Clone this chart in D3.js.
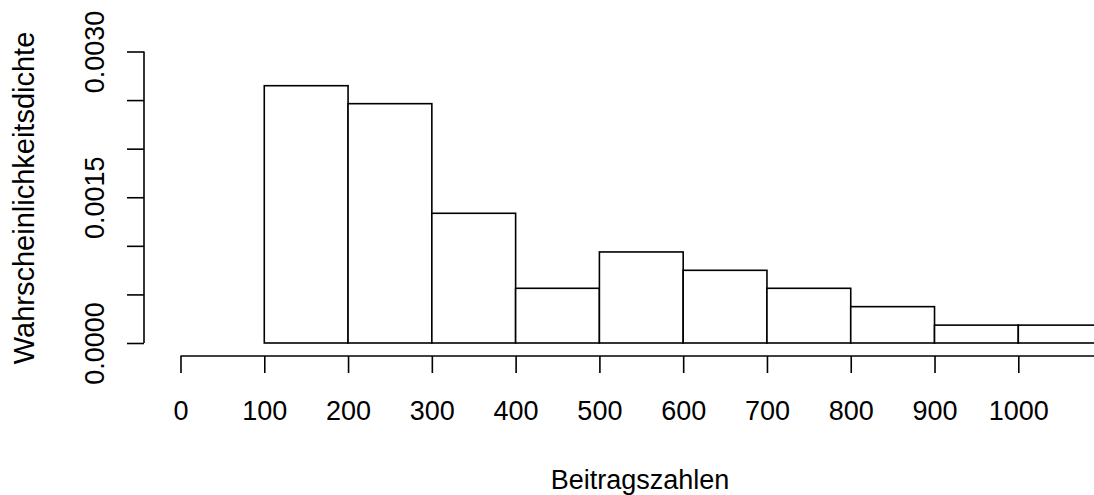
<!DOCTYPE html>
<html>
<head>
<meta charset="utf-8">
<script src="https://cdn.jsdelivr.net/npm/d3@7"></script>
<style>
  html, body { margin: 0; padding: 0; background: #fff; }
  svg { display: block; }
  text { font-family: "Liberation Sans", Arial, sans-serif; fill: #000; }
</style>
</head>
<body>
<svg id="chart" width="1094" height="495"></svg>
<script>
// Histogram bins (Beitragszahlen) and their densities
const binStarts = [0, 100, 200, 300, 400, 500, 600, 700, 800, 900, 1000];
const binWidth = 100;
const densities = [0, 0.002648, 0.002463, 0.001335, 0.000563, 0.000937, 0.000748, 0.000563, 0.000374, 0.000184, 0.000184];
const xTicks = [0, 100, 200, 300, 400, 500, 600, 700, 800, 900, 1000];
const xTickLabels = ["0", "100", "200", "300", "400", "500", "600", "700", "800", "900", "1000"];
const yTicks = [0, 0.0005, 0.001, 0.0015, 0.002, 0.0025, 0.003];
const yTickLabels = ["0.0000", "", "", "0.0015", "", "", "0.0030"];
const xTitle = "Beitragszahlen";
const yTitle = "Wahrscheinlichkeitsdichte";

const svg = d3.select("#chart");
const FS = 27;

const x = d3.scaleLinear().domain([0, 1000]).range([180.5, 1018.3]);
const y = d3.scaleLinear().domain([0, 0.003]).range([343, 51.5]);

// bars
svg.append("g").selectAll("rect")
  .data(binStarts.map((s, i) => ({ s, d: densities[i] })))
  .join("rect")
  .attr("x", d => x(d.s))
  .attr("y", d => y(d.d))
  .attr("width", d => x(d.s + binWidth) - x(d.s))
  .attr("height", d => y(0) - y(d.d))
  .attr("fill", "#fff")
  .attr("stroke", "#000")
  .attr("stroke-width", 1.6);

// x axis
const xAxis = d3.axisBottom(x)
  .tickValues(xTicks)
  .tickFormat((d, i) => xTickLabels[i])
  .tickSize(17)
  .tickSizeOuter(0)
  .tickPadding(26);
const gx = svg.append("g").attr("transform", "translate(0,356)").call(xAxis);
gx.select(".domain").remove();
gx.append("line")
  .attr("x1", x(0)).attr("x2", x(binStarts[binStarts.length - 1] + binWidth))
  .attr("y1", 0).attr("y2", 0)
  .attr("stroke", "#000").attr("stroke-width", 1.6);
gx.selectAll(".tick line").attr("stroke", "#000").attr("stroke-width", 1.6);
gx.selectAll(".tick text")
  .attr("font-size", FS)
  .attr("font-family", "'Liberation Sans', Arial, sans-serif")
  .attr("fill", "#000")
  .attr("dy", null)
  .attr("y", 63.5);

// y axis
const yAxis = d3.axisLeft(y)
  .tickValues(yTicks)
  .tickFormat((d, i) => yTickLabels[i])
  .tickSize(17)
  .tickSizeOuter(0);
const gy = svg.append("g").attr("transform", "translate(144,0)").call(yAxis);
gy.select(".domain")
  .attr("d", `M0,${y(0)}V${y(0.003)}`)
  .attr("stroke", "#000").attr("stroke-width", 1.6);
gy.selectAll(".tick line").attr("stroke", "#000").attr("stroke-width", 1.6);
gy.selectAll(".tick text")
  .attr("font-size", FS)
  .attr("font-family", "'Liberation Sans', Arial, sans-serif")
  .attr("fill", "#000")
  .attr("x", null).attr("dy", null)
  .attr("text-anchor", "middle")
  .attr("transform", "translate(-40.5,0) rotate(-90)");

// titles
svg.append("text")
  .attr("x", 640).attr("y", 489)
  .attr("text-anchor", "middle")
  .attr("font-size", FS)
  .text(xTitle);

svg.append("text")
  .attr("transform", "translate(33.5,198) rotate(-90)")
  .attr("text-anchor", "middle")
  .attr("font-size", 29)
  .text(yTitle);
</script>
</body>
</html>
